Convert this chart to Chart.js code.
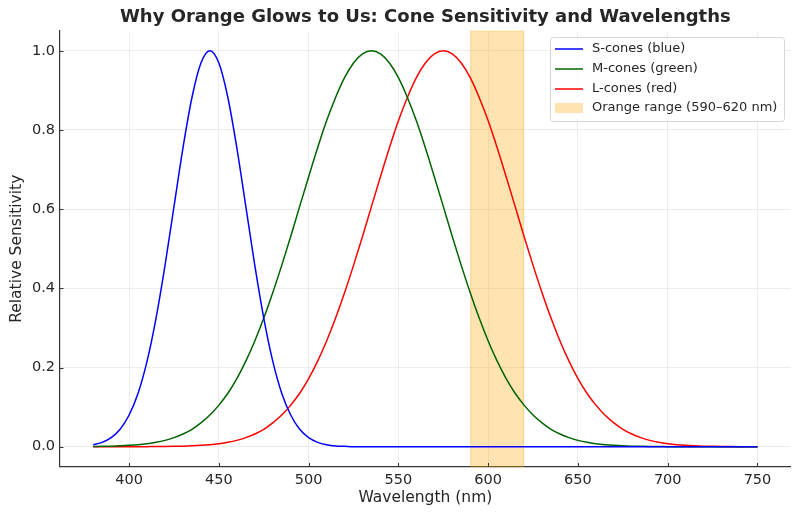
<!DOCTYPE html>
<html>
<head>
<meta charset="utf-8">
<script src="https://cdn.jsdelivr.net/npm/chart.js@4.4.1/dist/chart.umd.min.js"></script>
<style>
  html, body { margin: 0; padding: 0; background: #ffffff; }
  #wrap { width: 800px; height: 517px; position: relative; }
</style>
</head>
<body>
<div id="wrap"><canvas id="c" width="800" height="517"></canvas></div>
<script>
// ---- data ----
const chartTitle = "Why Orange Glows to Us: Cone Sensitivity and Wavelengths";
const xAxisTitle = "Wavelength (nm)";
const yAxisTitle = "Relative Sensitivity";
const wavelengths = [380,385,390,395,400,405,410,415,420,425,430,435,440,445,450,455,460,465,470,475,480,485,490,495,500,505,510,515,520,525,530,535,540,545,550,555,560,565,570,575,580,585,590,595,600,605,610,615,620,625,630,635,640,645,650,655,660,665,670,675,680,685,690,695,700,705,710,715,720,725,730,735,740,745,750];
const sCones = [0.005,0.011,0.023,0.044,0.080,0.135,0.216,0.325,0.458,0.607,0.755,0.882,0.969,1.000,0.969,0.882,0.755,0.607,0.458,0.325,0.216,0.135,0.080,0.044,0.023,0.011,0.005,0.002,0.001,0,0,0,0,0,0,0,0,0,0,0,0,0,0,0,0,0,0,0,0,0,0,0,0,0,0,0,0,0,0,0,0,0,0,0,0,0,0,0,0,0,0,0,0,0,0];
const mCones = [0.0005,0.0009,0.0014,0.0022,0.0034,0.0051,0.0076,0.011,0.016,0.023,0.032,0.044,0.060,0.080,0.105,0.135,0.172,0.216,0.267,0.325,0.389,0.458,0.531,0.607,0.682,0.755,0.823,0.882,0.932,0.969,0.992,1.000,0.992,0.969,0.932,0.882,0.823,0.755,0.682,0.607,0.531,0.458,0.389,0.325,0.267,0.216,0.172,0.135,0.105,0.080,0.060,0.044,0.032,0.023,0.016,0.011,0.0076,0.0051,0.0034,0.0022,0.0014,0.0009,0.0005,0.0003,0.0002,0.0001,0,0,0,0,0,0,0,0,0];
const lCones = [0,0,0,0,0.0001,0.0001,0.0002,0.0003,0.0005,0.0009,0.0014,0.0022,0.0034,0.0051,0.0076,0.011,0.016,0.023,0.032,0.044,0.060,0.080,0.105,0.135,0.172,0.216,0.267,0.325,0.389,0.458,0.531,0.607,0.682,0.755,0.823,0.882,0.932,0.969,0.992,1.000,0.992,0.969,0.932,0.882,0.823,0.755,0.682,0.607,0.531,0.458,0.389,0.325,0.267,0.216,0.172,0.135,0.105,0.080,0.060,0.044,0.032,0.023,0.016,0.011,0.0076,0.0051,0.0034,0.0022,0.0014,0.0009,0.0005,0.0003,0.0002,0.0001,0.0001];
const seriesNames = ["S-cones (blue)", "M-cones (green)", "L-cones (red)"];
const bandName = "Orange range (590\u2013620 nm)";
const orangeRange = [590, 620];
const xTicks = [400, 450, 500, 550, 600, 650, 700, 750];
const yTicks = [0.0, 0.2, 0.4, 0.6, 0.8, 1.0];
const yTickLabels = ["0.0", "0.2", "0.4", "0.6", "0.8", "1.0"];

// ---- styles ----
const lineColors = ["#0000ff", "#006400", "#ff0000"];
const bandColor = "rgba(255,165,0,0.3)";
const FONT = "'DejaVu Sans', 'Liberation Sans', sans-serif";
const TEXT = "#262626";

const toPts = (vals) => wavelengths.map((w, i) => ({ x: w, y: vals[i] }));

const bandPlugin = {
  id: 'band',
  beforeDatasetsDraw(chart) {
    const { ctx, chartArea: a, scales: { x } } = chart;
    const x0 = x.getPixelForValue(orangeRange[0]);
    const x1 = x.getPixelForValue(orangeRange[1]);
    ctx.save();
    ctx.fillStyle = bandColor;
    ctx.fillRect(x0, a.top, x1 - x0, a.bottom - a.top);
    ctx.strokeStyle = "rgba(255,165,0,0.25)";
    ctx.lineWidth = 1;
    ctx.strokeRect(x0 + 0.5, a.top, x1 - x0 - 1, a.bottom - a.top);
    ctx.restore();
  }
};

const decorPlugin = {
  id: 'decor',
  afterDraw(chart) {
    const { ctx, chartArea: a, scales: { x, y } } = chart;
    ctx.save();
    // inward tick marks
    ctx.strokeStyle = "#333333";
    ctx.lineWidth = 1;
    xTicks.forEach(v => {
      const px = Math.round(x.getPixelForValue(v)) + 0.5;
      ctx.beginPath(); ctx.moveTo(px, a.bottom); ctx.lineTo(px, a.bottom - 3.5); ctx.stroke();
    });
    yTicks.forEach(v => {
      const py = Math.round(y.getPixelForValue(v)) + 0.5;
      ctx.beginPath(); ctx.moveTo(a.left, py); ctx.lineTo(a.left + 3.5, py); ctx.stroke();
    });
    // title
    ctx.fillStyle = TEXT;
    ctx.font = "bold 18px " + FONT;
    ctx.textAlign = "center";
    ctx.textBaseline = "middle";
    ctx.fillText(chartTitle, (a.left + a.right) / 2, 17);
    // legend
    const lx = 550, ly = 37, lw = 234, lh = 84;
    ctx.fillStyle = "rgba(255,255,255,0.85)";
    ctx.strokeStyle = "#d6d6d6";
    ctx.lineWidth = 1;
    ctx.beginPath();
    ctx.roundRect(lx + 0.5, ly + 0.5, lw, lh, 3);
    ctx.fill(); ctx.stroke();
    ctx.font = "13px " + FONT;
    ctx.textAlign = "left";
    ctx.textBaseline = "middle";
    const rows = [49, 69, 89, 108];
    seriesNames.forEach((n, i) => {
      ctx.strokeStyle = lineColors[i];
      ctx.lineWidth = 1.5;
      ctx.beginPath(); ctx.moveTo(555, rows[i]); ctx.lineTo(583, rows[i]); ctx.stroke();
      ctx.fillStyle = TEXT;
      ctx.fillText(n, 592, rows[i]);
    });
    ctx.fillStyle = bandColor;
    ctx.fillRect(555, rows[3] - 5, 28, 10);
    ctx.fillStyle = TEXT;
    ctx.fillText(bandName, 592, rows[3]);
    ctx.restore();
  }
};

new Chart(document.getElementById('c'), {
  type: 'line',
  data: {
    datasets: [sCones, mCones, lCones].map((vals, i) => ({
      label: seriesNames[i],
      data: toPts(vals),
      borderColor: lineColors[i],
      backgroundColor: lineColors[i],
      borderWidth: 1.5,
      pointRadius: 0,
      fill: false,
      cubicInterpolationMode: 'monotone'
    }))
  },
  options: {
    responsive: false,
    animation: false,
    devicePixelRatio: 1,
    layout: { padding: { top: 31, right: 9.3, left: 0, bottom: 0 } },
    plugins: { legend: { display: false }, title: { display: false }, tooltip: { enabled: false } },
    scales: {
      x: {
        type: 'linear',
        min: 361.5, max: 768.5,
        afterFit: (s) => { s.height = 50.5; },
        afterBuildTicks: (s) => { s.ticks = xTicks.map(v => ({ value: v })); },
        ticks: { padding: 5, color: TEXT, font: { family: FONT, size: 14.5 }, callback: (v) => String(v) },
        grid: { color: "#ececec", lineWidth: 1, drawTicks: false },
        border: { color: "#333333", width: 1.2 },
        title: { display: true, text: xAxisTitle, color: TEXT, font: { family: FONT, size: 15.5 }, padding: { top: 10, bottom: 10 } }
      },
      y: {
        min: -0.05, max: 1.05,
        afterFit: (s) => { s.width = 60; },
        afterBuildTicks: (s) => { s.ticks = yTicks.map(v => ({ value: v })); },
        ticks: { padding: 5, color: TEXT, font: { family: FONT, size: 14.5 }, callback: (v) => { const k = yTicks.indexOf(v); return k >= 0 ? yTickLabels[k] : ''; } },
        grid: { color: "#ececec", lineWidth: 1, drawTicks: false },
        border: { color: "#333333", width: 1.2 },
        title: { display: true, text: yAxisTitle, color: TEXT, font: { family: FONT, size: 15.5 }, padding: { top: 8, bottom: 8 } }
      }
    }
  },
  plugins: [bandPlugin, decorPlugin]
});
</script>
</body>
</html>
